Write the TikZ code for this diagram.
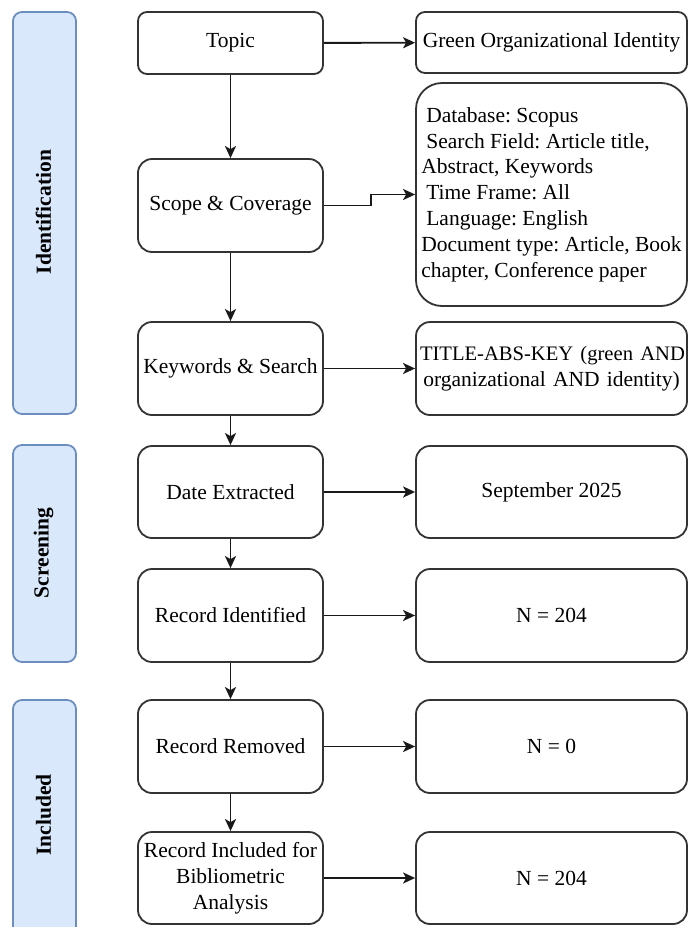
\documentclass[tikz,border=0pt]{standalone}
\usepackage{fontspec}
\setmainfont{Liberation Serif}
\usetikzlibrary{arrows.meta}
\definecolor{boxline}{HTML}{333333}
\definecolor{laneFill}{HTML}{DAE8FC}
\definecolor{laneLine}{HTML}{6C8EBF}
\frenchspacing
\tikzset{
  txt/.style={font=\fontsize{21.5}{25.8}\selectfont},
  stepbox/.style={txt, draw=boxline, line width=1.8pt, fill=white,
    minimum width=185pt, inner sep=3pt, align=center, rounded corners=14pt},
  infobox/.style={txt, draw=boxline, line width=1.8pt, fill=white,
    minimum width=271pt, inner sep=4pt, align=center, rounded corners=14pt},
  lane/.style={draw=laneLine, fill=laneFill, line width=1.8pt,
    minimum width=63pt, rounded corners=9pt},
  lanelabel/.style={font=\fontsize{21.5}{25.8}\selectfont\bfseries, rotate=90},
  flow/.style={draw=black!90, line width=1.9pt,
    -{Stealth[length=12pt,width=11pt,inset=3pt]}}
}
\begin{document}
\begin{tikzpicture}[x=1pt,y=-1pt]
\useasboundingbox (0,0) rectangle (688,927);

% phase lanes
\node[lane, minimum height=402pt] (idlane) at (44.5,213) {};
\node[lanelabel] (idtext) at (43.5,212) {Identification};
\node[lane, minimum height=217pt] (sclane) at (44.5,553.5) {};
\node[lanelabel] (sctext) at (43.5,553) {Screening};
\node[lane, minimum height=236pt] (inlane) at (44.5,818) {};
\node[lanelabel] (intext) at (43.5,815) {Included};

% process steps
\node[stepbox, minimum height=62pt, rounded corners=9pt] (topic) at (230.5,43) {Topic};
\node[stepbox, minimum height=93pt] (scope) at (230.5,205.5) {Scope \& Coverage};
\node[stepbox, minimum height=93pt] (kw) at (230.5,368.5) {Keywords \& Search};
\node[stepbox, minimum height=92pt] (date) at (230.5,492) {Date Extracted};
\node[stepbox, minimum height=93pt] (recid) at (230.5,615.5) {Record Identified};
\node[stepbox, minimum height=93pt] (recrem) at (230.5,746.5) {Record Removed};
\node[stepbox, minimum height=92pt] (recinc) at (230.5,878) {Record Included for\\Bibliometric\\Analysis};

% details
\node[infobox, minimum height=61pt, rounded corners=9pt] (green) at (551.5,42.5) {Green Organizational Identity};
\node[infobox, minimum height=223pt, rounded corners=26pt, align=left] (db) at (551.5,194.5)
  {\hspace{5pt}Database: Scopus\\
   \hspace{5pt}Search Field: Article title,\\
   Abstract, Keywords\\
   \hspace{5pt}Time Frame: All\\
   \hspace{5pt}Language: English\\
   Document type: Article, Book\\
   chapter, Conference paper};
\node[infobox, minimum height=93pt, text width=263pt] (query) at (551.5,368.5)
  {\mbox{\fontsize{20.6}{25.8}\selectfont TITLE-ABS-KEY (green AND}\\\mbox{organizational AND identity)}};
\node[infobox, minimum height=92pt] (month) at (551.5,492) {September 2025};
\node[infobox, minimum height=93pt] (nid) at (551.5,615.5) {N = 204};
\node[infobox, minimum height=93pt] (nrem) at (551.5,746.5) {N = 0};
\node[infobox, minimum height=92pt] (ninc) at (551.5,878) {N = 204};

% vertical flow
\draw[flow] (topic) -- (scope);
\draw[flow] (scope) -- (kw);
\draw[flow] (kw) -- (date);
\draw[flow] (date) -- (recid);
\draw[flow] (recid) -- (recrem);
\draw[flow] (recrem) -- (recinc);

% horizontal links
\draw[flow] (topic) -- (green);
\draw[flow] (scope.east) -- ++(47,0) |- (db.west);
\draw[flow] (kw) -- (query);
\draw[flow] (date) -- (month);
\draw[flow] (recid) -- (nid);
\draw[flow] (recrem) -- (nrem);
\draw[flow] (recinc) -- (ninc);
\end{tikzpicture}
\end{document}
